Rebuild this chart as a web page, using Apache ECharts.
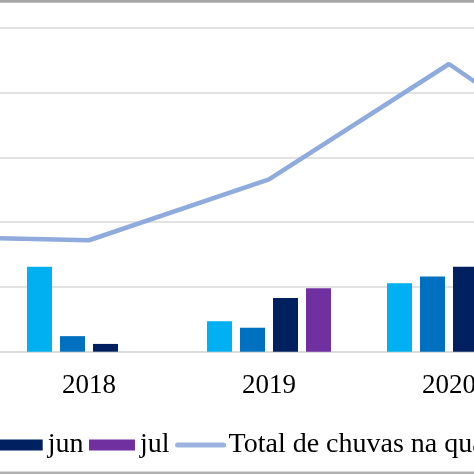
<!DOCTYPE html>
<html><head><meta charset="utf-8">
<script src="https://cdn.jsdelivr.net/npm/echarts@6/dist/echarts.min.js"></script>
<style>
html,body{margin:0;padding:0;width:474px;height:474px;overflow:hidden;background:#fff;position:relative;}
#chart{position:absolute;left:-200px;top:0;width:1000px;height:474px;}
</style></head>
<body><div id="chart"></div>
<script>
const categories = ['2017','2018','2019','2020','2021'];
const serieA = [null, 131, 47, 105.5, null];   // light blue bars
const serieB = [null, 24, 37, 116, null];      // medium blue bars
const jun = [null, 12, 83, 131, null];
const jul = [null, 0, 98, null, null];
const totalChuvas = [178, 172, 266, 444, 253];
const lineName = 'Total de chuvas na quadra chuvosa';

const chart = echarts.init(document.getElementById('chart'), null, {renderer:'canvas'});
const font = 'Liberation Serif';
const barBase = {type:'bar', barWidth:25, barGap:'32%'};
chart.setOption({
  animation:false,
  grid:{left:19, right:81, top:27.7, bottom:122.3, containLabel:false},
  legend:{
    data:[
      {name:'jun', icon:'rect'},
      {name:'jul', icon:'rect'},
      {name:lineName, itemStyle:{opacity:0}, lineStyle:{width:5, cap:'round', color:'#9BB3E0'}}
    ],
    left:191.7, top:426,
    itemWidth:46, itemHeight:11, itemGap:5.5,
    textStyle:{fontFamily:font, fontSize:28, color:'#000'}
  },
  xAxis:{type:'category', data:categories,
    axisLine:{lineStyle:{color:'#d9d9d9', width:1.5}}, axisTick:{show:false},
    axisLabel:{fontFamily:font, fontSize:27, color:'#000', margin:21}},
  yAxis:{type:'value', min:0, max:500, interval:100,
    axisLabel:{show:false}, axisLine:{show:false}, axisTick:{show:false},
    splitLine:{lineStyle:{color:'#d9d9d9', width:1.5}}},
  graphic:[
    {type:'rect', shape:{x:0,y:0,width:1000,height:2.8}, style:{fill:'#a6a6a6'}, z:100},
    {type:'rect', shape:{x:0,y:471.5,width:1000,height:2.5}, style:{fill:'#b0b0b0'}, z:100}
  ],
  series:[
    Object.assign({data:serieA, itemStyle:{color:'#00B0F0'}}, barBase),
    Object.assign({data:serieB, itemStyle:{color:'#0070C0'}}, barBase),
    Object.assign({name:'jun', data:jun, itemStyle:{color:'#002060'}}, barBase),
    Object.assign({name:'jul', data:jul, itemStyle:{color:'#7030A0'}}, barBase),
    {name:lineName, type:'line', data:totalChuvas, symbol:'none',
     itemStyle:{color:'#8FAADC'}, lineStyle:{color:'#8FAADC', width:4.5}, z:5}
  ]
});
</script></body></html>
